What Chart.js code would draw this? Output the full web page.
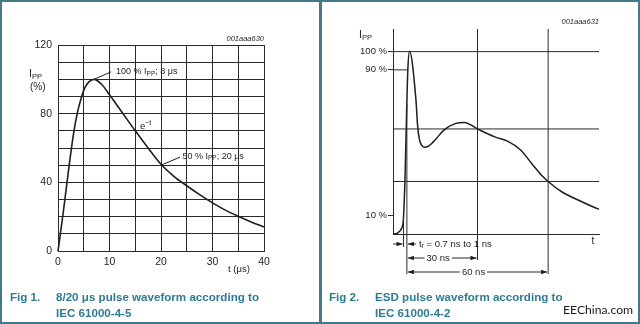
<!DOCTYPE html>
<html>
<head>
<meta charset="utf-8">
<script src="https://cdn.jsdelivr.net/npm/chart.js@4.4.0/dist/chart.umd.min.js"></script>
<style>
    body { margin: 0; width: 640px; height: 324px; overflow: hidden; background: #fff; position: relative;
           font-family: 'Liberation Sans', Arial, sans-serif; }
    canvas { position: absolute; top: 0; }
    #pulseChart { left: 0; }
    #esdChart { left: 320px; }
    .frame { position: absolute; top: 0; height: 324px; box-sizing: border-box; border: 2px solid #44788a; }
    .cap { position: absolute; color: #2e7b94; font-weight: bold; font-size: 11.6px; line-height: 15.6px; white-space: nowrap; }
    .mark { position: absolute; left: 563px; top: 302px; font-family: Lato, 'Open Sans', sans-serif; font-size: 12.2px; color: #1a1a1a; }
</style>
</head>
<body>
<canvas id="pulseChart" width="320" height="324"></canvas>
<canvas id="esdChart" width="320" height="324"></canvas>
<div class="frame" style="left:0;width:322px"></div>
<div class="frame" style="left:319px;width:321px"></div>
<div class="cap" style="left:10px;top:289px">Fig 1.</div>
<div class="cap" style="left:56px;top:289px">8/20 μs pulse waveform according to<br>IEC 61000-4-5</div>
<div class="cap" style="left:329px;top:289px">Fig 2.</div>
<div class="cap" style="left:375px;top:289px">ESD pulse waveform according to<br>IEC 61000-4-2</div>
<div class="mark">EEChina.com</div>
<script>
// ----------------------------------------------------
// Data
// ----------------------------------------------------
// Fig 1: 8/20 us surge pulse (t in us, current in % of Ipp)
const pulseTime    = [0, 1, 2, 3, 3.8, 4.5, 5.2, 6, 7, 8.5, 10, 12.5, 15, 17.5, 20, 22.5, 25, 27.5, 30, 32.5, 35, 37.5, 40];
const pulseCurrent = [0, 22, 46, 68, 81, 89, 95, 98.5, 100, 97, 91, 80.5, 70, 60, 50.5, 43.5, 38, 32.8, 28, 23.8, 20.2, 16.9, 14];
const pulseXLabels = [0, 10, 20, 30, 40];
const pulseYLabels = [0, 40, 80, 120];

// Fig 2: ESD pulse (t in ns from the rising edge, current in % of Ipp)
const esdTime    = [-5.9, -4.7, -3.0, -2.2, -1.5, -1.2, -0.8, -0.4, 0.4, 1.1, 3.84, 4.57, 5.34, 6.26, 7.63, 9.2, 11.4, 16.0,
                    20.5, 24.4, 30, 37.6, 42.9, 48.2, 53.4, 57.4, 60, 65.6, 74.1, 80.5, 81.6];
const esdCurrent = [0, 0.1, 1.6, 3.3, 7.7, 16, 30, 52, 90, 100, 73.7, 59.0, 51.7, 48.7, 47.5, 48.2, 50.8, 57.2,
                    60.5, 61.2, 57.6, 53.1, 50.8, 46.2, 38.0, 31.9, 28.8, 23.3, 17.8, 14.1, 13.6];
const esdYTicks  = [10, 90, 100];
const esdMarks   = [30, 60];        // ns
const esdLevels  = [57.6, 28.8];    // current at 30 ns and 60 ns

const FONT = '"Liberation Sans", Arial, sans-serif';
const INK = '#1e1e1e';

// text with sub/superscript pieces
function drawRich(ctx, x, y, parts, size) {
    parts.forEach(([text, kind]) => {
        const s = kind ? size * 0.72 : size;
        ctx.font = s + 'px ' + FONT;
        let dy = 0;
        if (kind === 'sub') dy = size * 0.25;
        if (kind === 'sup') dy = -size * 0.35;
        ctx.fillText(text, x, y + dy);
        x += ctx.measureText(text).width;
    });
}

function seg(ctx, x1, y1, x2, y2) {
    ctx.beginPath();
    ctx.moveTo(x1, y1);
    ctx.lineTo(x2, y2);
    ctx.stroke();
}

function arrowHead(ctx, x, y, dir) {
    ctx.beginPath();
    ctx.moveTo(x, y);
    ctx.lineTo(x - dir * 6, y - 2.3);
    ctx.lineTo(x - dir * 6, y + 2.3);
    ctx.closePath();
    ctx.fill();
}

// time where the rising edge of the ESD pulse reaches a level
function riseTime(level) {
    for (let i = 1; i < esdTime.length; i++) {
        if (esdCurrent[i] >= level) {
            const f = (level - esdCurrent[i - 1]) / (esdCurrent[i] - esdCurrent[i - 1]);
            return esdTime[i - 1] + f * (esdTime[i] - esdTime[i - 1]);
        }
    }
    return 0;
}

// ----------------------------------------------------
// 1. 8/20 us pulse
// ----------------------------------------------------
const pulseNotes = {
    id: 'pulseNotes',
    afterDraw(chart) {
        const { ctx, chartArea: a, scales: { x, y } } = chart;
        ctx.save();
        ctx.fillStyle = INK;
        ctx.strokeStyle = INK;
        ctx.lineWidth = 1;
        ctx.textBaseline = 'middle';

        ctx.font = 'italic 7.5px ' + FONT;
        ctx.textAlign = 'right';
        ctx.fillText('001aaa630', a.right, a.top - 6);
        ctx.textAlign = 'left';

        drawRich(ctx, 29, 74, [['I'], ['PP', 'sub']], 10.5);
        ctx.font = '10px ' + FONT;
        ctx.fillText('(%)', 30, 87);
        ctx.font = '9.5px ' + FONT;
        ctx.fillText('t (μs)', 228, 269);

        // peak note
        let px = x.getPixelForValue(7), py = y.getPixelForValue(100);
        seg(ctx, px, py, px + 17, py - 7.5);
        drawRich(ctx, px + 22, py - 7.5, [['100 % I'], ['PP', 'sub'], ['; 8 μs']], 9);

        // half value note
        px = x.getPixelForValue(20); py = y.getPixelForValue(50);
        seg(ctx, px, py, px + 19, py - 8);
        drawRich(ctx, px + 21.5, py - 9, [['50 % I'], ['PP', 'sub'], ['; 20 μs']], 9);

        // exponential tail
        drawRich(ctx, x.getPixelForValue(15.9), y.getPixelForValue(72.5), [['e'], ['−t', 'sup']], 9.5);
        ctx.restore();
    }
};

new Chart(document.getElementById('pulseChart'), {
    type: 'line',
    data: {
        datasets: [{
            data: pulseTime.map((t, i) => ({ x: t, y: pulseCurrent[i] })),
            borderColor: INK,
            borderWidth: 1.6,
            pointRadius: 0,
            cubicInterpolationMode: 'monotone',
            clip: 2
        }]
    },
    options: {
        responsive: false,
        animation: false,
        devicePixelRatio: 1,
        layout: { padding: { left: 0, right: 56, top: 45, bottom: 53 } },
        plugins: { legend: { display: false }, tooltip: { enabled: false } },
        scales: {
            x: {
                type: 'linear', min: 0, max: 40,
                grid: { color: '#2a2a2a', lineWidth: 1, drawTicks: false },
                border: { color: '#2a2a2a' },
                ticks: {
                    stepSize: 5, padding: 5, autoSkip: false, maxRotation: 0, color: INK,
                    font: { size: 10.5, family: FONT },
                    callback: v => pulseXLabels.includes(v) ? v : ''
                },
                afterFit(s) { s.height = 20; }
            },
            y: {
                min: 0, max: 120,
                grid: { color: '#2a2a2a', lineWidth: 1, drawTicks: false },
                border: { color: '#2a2a2a' },
                ticks: {
                    stepSize: 10, padding: 6, autoSkip: false, color: INK,
                    font: { size: 10.5, family: FONT },
                    callback: v => pulseYLabels.includes(v) ? v : ''
                },
                afterFit(s) { s.width = 58; }
            }
        }
    },
    plugins: [pulseNotes]
});

// ----------------------------------------------------
// 2. ESD pulse
// ----------------------------------------------------
const esdNotes = {
    id: 'esdNotes',
    afterDatasetsDraw(chart) {
        const { ctx, chartArea: a, scales: { x, y } } = chart;
        const X = v => x.getPixelForValue(v), Y = v => y.getPixelForValue(v);
        const rows = [a.bottom + 10, a.bottom + 24, a.bottom + 38];
        ctx.save();
        ctx.strokeStyle = '#2a2a2a';
        ctx.fillStyle = INK;
        ctx.lineWidth = 1;
        ctx.textBaseline = 'middle';

        // level lines
        seg(ctx, a.left, Y(100), a.right, Y(100));
        esdLevels.forEach(v => seg(ctx, a.left, Y(v), a.right, Y(v)));
        const t10 = riseTime(10), t90 = riseTime(90);
        seg(ctx, a.left, Y(90), X(t90), Y(90));

        // time marks and extension lines
        esdMarks.forEach((m, i) => seg(ctx, X(m), a.top, X(m), rows[i + 1] + 2));
        seg(ctx, X(t10), Y(10), X(t10), rows[0] + 3);
        seg(ctx, X(0), Y(71), X(0), rows[2] + 2);

        // rise time
        seg(ctx, a.left, rows[0], X(t10) - 1, rows[0]);
        arrowHead(ctx, X(t10) - 1, rows[0], 1);
        seg(ctx, X(0) + 1, rows[0], X(0) + 9, rows[0]);
        arrowHead(ctx, X(0) + 1, rows[0], -1);
        ctx.textAlign = 'left';
        drawRich(ctx, X(0) + 12, rows[0], [['t'], ['r', 'sub'], [' = 0.7 ns to 1 ns']], 9.5);

        // 30 ns / 60 ns dimensions
        ctx.font = '9.5px ' + FONT;
        ctx.textAlign = 'center';
        esdMarks.forEach((m, i) => {
            const yy = rows[i + 1], x1 = X(0) + 1, x2 = X(m) - 1;
            const label = m + ' ns';
            const w = ctx.measureText(label).width;
            const mid = (x1 + x2) / 2 - 4;
            seg(ctx, x1, yy, mid - w / 2 - 2, yy);
            seg(ctx, mid + w / 2 + 2, yy, x2, yy);
            arrowHead(ctx, x1, yy, -1);
            arrowHead(ctx, x2, yy, 1);
            ctx.fillText(label, mid, yy);
        });

        // axis titles and figure code
        ctx.font = '10px ' + FONT;
        ctx.fillText('t', a.right - 6, a.bottom + 7);
        ctx.textAlign = 'left';
        drawRich(ctx, a.left - 34, a.top + 6, [['I'], ['PP', 'sub']], 10.5);
        ctx.font = 'italic 7.5px ' + FONT;
        ctx.textAlign = 'right';
        ctx.fillText('001aaa631', a.right, a.top - 7);
        ctx.restore();
    }
};

new Chart(document.getElementById('esdChart'), {
    type: 'line',
    data: {
        datasets: [{
            data: esdTime.map((t, i) => ({ x: t, y: esdCurrent[i] })),
            borderColor: INK,
            borderWidth: 1.5,
            pointRadius: 0,
            cubicInterpolationMode: 'monotone',
            clip: 2
        }]
    },
    options: {
        responsive: false,
        animation: false,
        devicePixelRatio: 1,
        layout: { padding: { left: 0, right: 41, top: 29, bottom: 90 } },
        plugins: { legend: { display: false }, tooltip: { enabled: false } },
        scales: {
            x: {
                type: 'linear', min: -5.9, max: 81.6,
                grid: { display: false },
                border: { display: true, color: '#2a2a2a' },
                ticks: { display: false },
                afterFit(s) { s.height = 0; }
            },
            y: {
                min: 0, max: 112.4,
                grid: { drawOnChartArea: false, drawTicks: true, tickLength: 5, color: '#2a2a2a' },
                border: { display: true, color: '#2a2a2a' },
                afterBuildTicks(s) { s.ticks = esdYTicks.map(v => ({ value: v })); },
                ticks: {
                    padding: 1, autoSkip: false, color: INK,
                    font: { size: 9.5, family: FONT },
                    callback: v => v + ' %'
                },
                afterFit(s) { s.width = 73; }
            }
        }
    },
    plugins: [esdNotes]
});
</script>
</body>
</html>
